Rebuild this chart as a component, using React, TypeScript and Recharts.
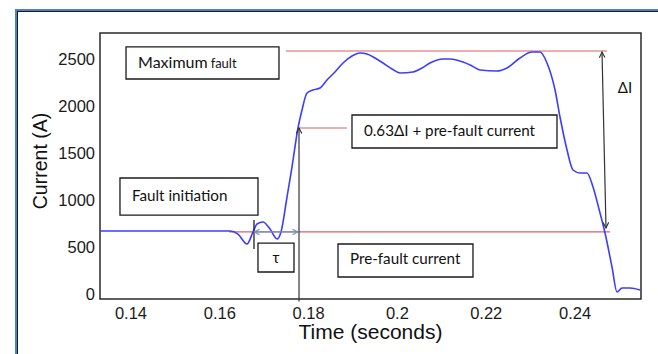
import React from 'react';
import { LineChart, Line, XAxis, YAxis, ReferenceLine, ReferenceArea, ReferenceDot } from 'recharts';

// ---- data ----
const timeS = [
  0.13302, 0.1623, 0.1641, 0.16613, 0.16748, 0.16838, 0.16973, 0.17131, 0.17288, 0.17378,
  0.17514, 0.17626, 0.17761, 0.17851, 0.17964, 0.18099, 0.18257, 0.18414, 0.18595, 0.18775,
  0.18977, 0.19158, 0.19315, 0.19495, 0.19676, 0.19878, 0.20059, 0.20351, 0.20554, 0.20734,
  0.21027, 0.21185, 0.21477, 0.2168, 0.2186, 0.22243, 0.22468, 0.22761, 0.23032, 0.23212,
  0.23369, 0.2355, 0.23662, 0.2382, 0.23955, 0.24113, 0.2427, 0.24405, 0.24563, 0.24676,
  0.24833, 0.24946, 0.25059, 0.25239, 0.25464,
];
const currentA = [
  670, 670, 638, 532, 660, 745, 766, 691, 585, 660,
  1032, 1351, 1766, 1957, 2138, 2170, 2191, 2277, 2362, 2457,
  2532, 2564, 2553, 2511, 2457, 2394, 2351, 2362, 2404, 2457,
  2500, 2500, 2468, 2426, 2383, 2372, 2404, 2511, 2574, 2574,
  2457, 2170, 1883, 1532, 1319, 1287, 1287, 1138, 862, 649,
  287, 21, 64, 64, 43,
];
const xTicks = [0.14, 0.16, 0.18, 0.2, 0.22, 0.24];
const yTicks = [0, 500, 1000, 1500, 2000, 2500];

// annotation levels / spans
const maxFaultLevel = 2585;
const preFaultLevel = 660;
const riseLevel = 1766;
const maxLineSpan = [0.17491, 0.24721];
const riseLineSpan = [0.17784, 0.18865];
const preFaultSpan = [0.16207, 0.24788];
const riseArrowT = 0.17784;
const deltaArrow = [[0.24608, 2574], [0.24698, 702]];
const faultTick = [[0.1677, 787], [0.1677, 479]];
const tauSpan = [0.1677, 0.17761];

const boxTexts = ['Maximum|fault', '0.63ΔI + pre-fault current', 'Fault initiation', 'τ', 'Pre-fault current'];
const boxX = [[0.13888, 0.17333], [0.18977, 0.23594], [0.13752, 0.1686], [0.1686, 0.17671], [0.18662, 0.21702]];
const boxY = [[2287, 2628], [1553, 1904], [840, 1234], [234, 542], [181, 532]];

const data = timeS.map((t, i) => ({ t, i: currentA[i] }));

const X_DOMAIN = [0.13302, 0.25486];
const Y_DOMAIN = [-53.2, 2776.6];
const RED = '#d8625f';
const BOX_FONT = 'Lato, "Open Sans", sans-serif';
const AXIS_FONT = '"Liberation Sans", Arial, sans-serif';

const BoxText = (props: any) => {
  const { viewBox, text } = props;
  if (!viewBox) return null;
  const { x, y, width, height } = viewBox;
  const cy = y + height / 2;
  if (text === 'τ') {
    return (
      <text x={x + width / 2} y={cy + 5} textAnchor="middle" fontSize={15} fontFamily={BOX_FONT} fill="#111">τ</text>
    );
  }
  if (text.includes('|')) {
    const [a, b] = text.split('|');
    return (
      <text x={x + 12} y={cy + 5} fontFamily={BOX_FONT} fill="#111">
        <tspan fontSize={16}>{a}</tspan>
        <tspan fontSize={13} dx={3}>{b}</tspan>
      </text>
    );
  }
  return (
    <text x={x + 12} y={cy + 4} fontSize={15.2} fontFamily={BOX_FONT} fill="#111">{text}</text>
  );
};

const YTitle = (props: any) => {
  const vb = props.viewBox;
  if (!vb) return null;
  const cx = vb.x + 7;
  const cy = vb.y + vb.height / 2 - 5;
  return (
    <text x={cx} y={cy} transform={`rotate(-90 ${cx} ${cy})`} textAnchor="middle" fontSize={19.5} fontFamily={AXIS_FONT} fill="#111">
      Current (A)
    </text>
  );
};

const XTitle = (props: any) => {
  const vb = props.viewBox;
  if (!vb) return null;
  return (
    <text x={vb.x + vb.width / 2} y={vb.y + 40} textAnchor="middle" fontSize={21} fontFamily={AXIS_FONT} fill="#111">
      Time (seconds)
    </text>
  );
};

export default function App() {
  return (
    <div style={{ position: 'absolute', left: 0, top: 0, width: 658, height: 354, background: '#fff', overflow: 'hidden' }}>
      <div
        style={{
          position: 'absolute', left: 15, top: 9, width: 720, height: 400,
          borderLeft: '2px solid #4f81bd', borderTop: '2px solid #4f81bd',
          boxShadow: 'inset 1px 1px 0 #1a1a1a',
        }}
      />
      <div style={{ position: 'absolute', left: 0, top: 0 }}>
        <LineChart width={658} height={354} data={data} margin={{ top: 33, right: 17, bottom: 25, left: 40 }}>
          <defs>
            <marker id="arrowDark" viewBox="0 0 10 10" refX="9" refY="5" markerWidth="7" markerHeight="7" markerUnits="userSpaceOnUse" orient="auto-start-reverse">
              <path d="M1,1 L9,5 L1,9" fill="none" stroke="#333" strokeWidth="1.6" />
            </marker>
            <marker id="arrowBlue" viewBox="0 0 10 10" refX="9" refY="5" markerWidth="7" markerHeight="7" markerUnits="userSpaceOnUse" orient="auto-start-reverse">
              <path d="M1,1 L9,5 L1,9" fill="none" stroke="#6f93bd" strokeWidth="1.6" />
            </marker>
          </defs>
          <XAxis
            dataKey="t" type="number" domain={X_DOMAIN} allowDataOverflow ticks={xTicks}
            tickFormatter={(v: number) => String(Number(v.toFixed(2)))}
            axisLine={false} tickLine={false} tickSize={0} tickMargin={8} height={30}
            tick={{ fontSize: 16.5, fill: '#1a1a1a', fontFamily: AXIS_FONT }}
            label={<XTitle />}
          />
          <YAxis
            type="number" domain={Y_DOMAIN} allowDataOverflow ticks={yTicks}
            axisLine={false} tickLine={false} tickSize={0} tickMargin={5} width={60}
            tick={{ fontSize: 16.5, fill: '#1a1a1a', fontFamily: AXIS_FONT }}
            label={<YTitle />}
          />
          {/* plot frame */}
          <ReferenceArea x1={X_DOMAIN[0]} x2={X_DOMAIN[1]} y1={Y_DOMAIN[0]} y2={Y_DOMAIN[1]} fill="none" fillOpacity={0} stroke="#2a2a2a" strokeWidth={1.5} ifOverflow="visible" />
          {/* red reference levels */}
          <ReferenceLine segment={[{ x: maxLineSpan[0], y: maxFaultLevel }, { x: maxLineSpan[1], y: maxFaultLevel }]} stroke={RED} strokeWidth={1.2} ifOverflow="visible" />
          <ReferenceLine segment={[{ x: riseLineSpan[0], y: riseLevel }, { x: riseLineSpan[1], y: riseLevel }]} stroke={RED} strokeWidth={1.2} ifOverflow="visible" />
          <ReferenceLine segment={[{ x: preFaultSpan[0], y: preFaultLevel }, { x: preFaultSpan[1], y: preFaultLevel }]} stroke={RED} strokeWidth={1.2} ifOverflow="visible" />
          {/* boxes */}
          {boxTexts.map((txt, k) => (
            <ReferenceArea key={txt} x1={boxX[k][0]} x2={boxX[k][1]} y1={boxY[k][0]} y2={boxY[k][1]}
              fill="#fff" fillOpacity={1} stroke="#1a1a1a" strokeWidth={1.3} ifOverflow="visible"
              label={<BoxText text={txt} />} />
          ))}
          <Line dataKey="i" type="monotone" stroke="#3d3dff" strokeWidth={1.6} dot={false} isAnimationActive={false} />
          {/* arrows */}
          <ReferenceLine segment={[{ x: riseArrowT, y: -80 }, { x: riseArrowT, y: riseLevel }]} stroke="#333" strokeWidth={1.2} markerEnd="url(#arrowDark)" ifOverflow="visible" />
          <ReferenceLine segment={[{ x: deltaArrow[0][0], y: deltaArrow[0][1] }, { x: deltaArrow[1][0], y: deltaArrow[1][1] }]} stroke="#333" strokeWidth={1.2} markerStart="url(#arrowDark)" markerEnd="url(#arrowDark)" ifOverflow="visible" />
          <ReferenceLine segment={[{ x: faultTick[0][0], y: faultTick[0][1] }, { x: faultTick[1][0], y: faultTick[1][1] }]} stroke="#222" strokeWidth={1.3} ifOverflow="visible" />
          <ReferenceLine segment={[{ x: tauSpan[0], y: preFaultLevel }, { x: tauSpan[1], y: preFaultLevel }]} stroke="#6f93bd" strokeWidth={1.3} markerStart="url(#arrowBlue)" markerEnd="url(#arrowBlue)" ifOverflow="visible" />
          <ReferenceDot x={0.25125} y={2191} r={0} fill="none" stroke="none" ifOverflow="visible"
            label={{ value: 'ΔI', position: 'center', fontSize: 15, fill: '#111', fontFamily: BOX_FONT }} />
        </LineChart>
      </div>
    </div>
  );
}
